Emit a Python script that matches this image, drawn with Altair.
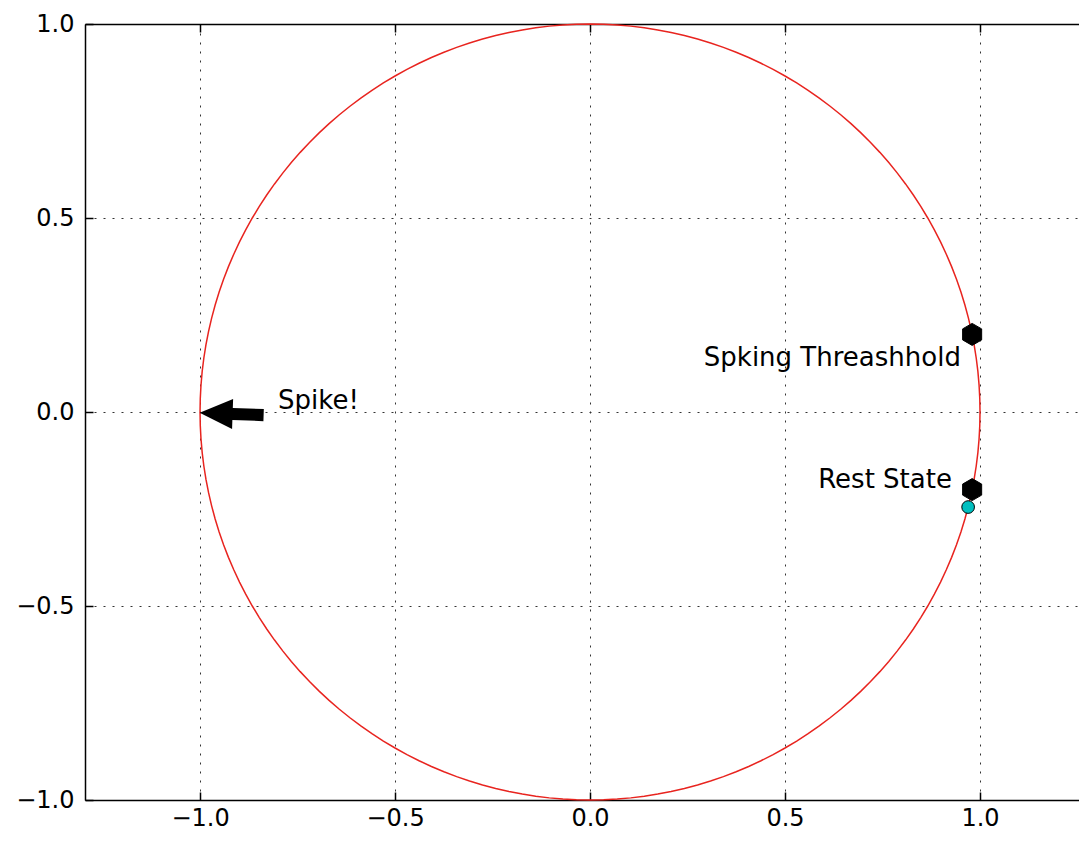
import altair as alt
import numpy as np
import pandas as pd

# ---- data ----
x_ticks = [-1.0, -0.5, 0.0, 0.5, 1.0]
y_ticks = [-1.0, -0.5, 0.0, 0.5, 1.0]
x_domain = [-1.295, 1.2538]
y_domain = [-1.0, 1.0]

circle_radius = 1.0
circle_angles_deg = list(range(0, 361, 2))

marker_names = ["Spiking threshold", "Rest state"]
marker_x = [0.9798, 0.9798]
marker_y = [0.2, -0.2]

state_x = [0.9695]
state_y = [-0.245]

label_texts = ["Spking Threashhold", "Rest State"]
label_x = [0.951, 0.928]
label_y = [0.118, -0.197]

spike_text = ["Spike!"]
spike_x = [-0.80]
spike_y = [0.008]

arrow_x = [-0.919]
arrow_y = [-0.005]

# ---- tables ----
theta = np.deg2rad(np.array(circle_angles_deg, dtype=float))
circle_df = pd.DataFrame({
    "i": np.arange(len(theta)),
    "x": circle_radius * np.cos(theta),
    "y": circle_radius * np.sin(theta),
})
marker_df = pd.DataFrame({"name": marker_names, "x": marker_x, "y": marker_y})
state_df = pd.DataFrame({"x": state_x, "y": state_y})
label_df = pd.DataFrame({"t": label_texts, "x": label_x, "y": label_y})
spike_df = pd.DataFrame({"t": spike_text, "x": spike_x, "y": spike_y})
arrow_df = pd.DataFrame({"x": arrow_x, "y": arrow_y})

FONT = "DejaVu Sans"
W, H = 994, 776
TICK = 8

xs = alt.Scale(domain=x_domain, nice=False, zero=False)
ys = alt.Scale(domain=y_domain, nice=False, zero=False)

no_axis = None


def xaxis(**kw):
    base = dict(title=None, values=x_ticks, labels=False, ticks=False, domain=False, grid=False)
    base.update(kw)
    return alt.Axis(**base)


def yaxis(**kw):
    base = dict(title=None, values=y_ticks, labels=False, ticks=False, domain=False, grid=False)
    base.update(kw)
    return alt.Axis(**base)


circle = alt.Chart(circle_df).mark_line(color="#e8241f", strokeWidth=1.5).encode(
    x=alt.X("x:Q", scale=xs, axis=xaxis(
        orient="bottom", labels=True, format=".1f", labelFont=FONT, labelFontSize=24,
        labelColor="black", labelPadding=6, domain=True, domainColor="black",
        domainWidth=1.5, grid=True, gridColor="#333333", gridDash=[2, 7], gridWidth=1)),
    y=alt.Y("y:Q", scale=ys, axis=yaxis(
        orient="left", labels=True, format=".1f", labelFont=FONT, labelFontSize=24,
        labelColor="black", labelPadding=11, domain=True, domainColor="black",
        domainWidth=1.5, grid=True, gridColor="#333333", gridDash=[2, 7], gridWidth=1)),
    order=alt.Order("i:Q"),
)

hex_path = "M0,-1L0.866,-0.5L0.866,0.5L0,1L-0.866,0.5L-0.866,-0.5Z"
markers = alt.Chart(marker_df).mark_point(
    shape=hex_path, size=484, filled=True, color="black", opacity=1,
    stroke="black", strokeWidth=1
).encode(
    x=alt.X("x:Q", scale=xs, axis=xaxis(orient="bottom", offset=-TICK, ticks=True,
                                        tickSize=TICK, tickColor="black", tickWidth=1.5)),
    y=alt.Y("y:Q", scale=ys, axis=yaxis(orient="left", offset=-TICK, ticks=True,
                                        tickSize=TICK, tickColor="black", tickWidth=1.5)),
)

state = alt.Chart(state_df).mark_point(
    shape="circle", size=160, filled=True, fill="#00bfbf", opacity=1,
    stroke="black", strokeWidth=1
).encode(
    x=alt.X("x:Q", scale=xs, axis=xaxis(orient="top", domain=True, domainColor="black",
                                        domainWidth=1.5)),
    y=alt.Y("y:Q", scale=ys, axis=no_axis),
)

labels = alt.Chart(label_df).mark_text(
    align="right", baseline="alphabetic", font=FONT, fontSize=26, color="black"
).encode(
    x=alt.X("x:Q", scale=xs, axis=xaxis(orient="top", offset=-TICK, ticks=True,
                                        tickSize=TICK, tickColor="black", tickWidth=1.5)),
    y=alt.Y("y:Q", scale=ys, axis=no_axis),
    text="t:N",
)

spike = alt.Chart(spike_df).mark_text(
    align="left", baseline="alphabetic", font=FONT, fontSize=26, color="black"
).encode(
    x=alt.X("x:Q", scale=xs, axis=no_axis),
    y=alt.Y("y:Q", scale=ys, axis=no_axis),
    text="t:N",
)

arrow_path = "M-1,0L0.03,-0.47L0.03,-0.19L1,-0.19L1,0.19L0.03,0.19L0.03,0.47Z"
arrow = alt.Chart(arrow_df).mark_point(
    shape=arrow_path, size=4096, filled=True, color="black", opacity=1, angle=2
).encode(
    x=alt.X("x:Q", scale=xs, axis=no_axis),
    y=alt.Y("y:Q", scale=ys, axis=no_axis),
)

chart = alt.layer(circle, markers, state, labels, spike, arrow).resolve_axis(
    x="independent", y="independent"
).properties(
    width=W, height=H,
    autosize=alt.AutoSizeParams(type="none"),
    padding={"left": 77, "top": 16, "right": 0, "bottom": 35},
    background="white",
).configure_view(stroke=None)

chart.save("out.html", embed_options={"renderer": "svg", "actions": False})
